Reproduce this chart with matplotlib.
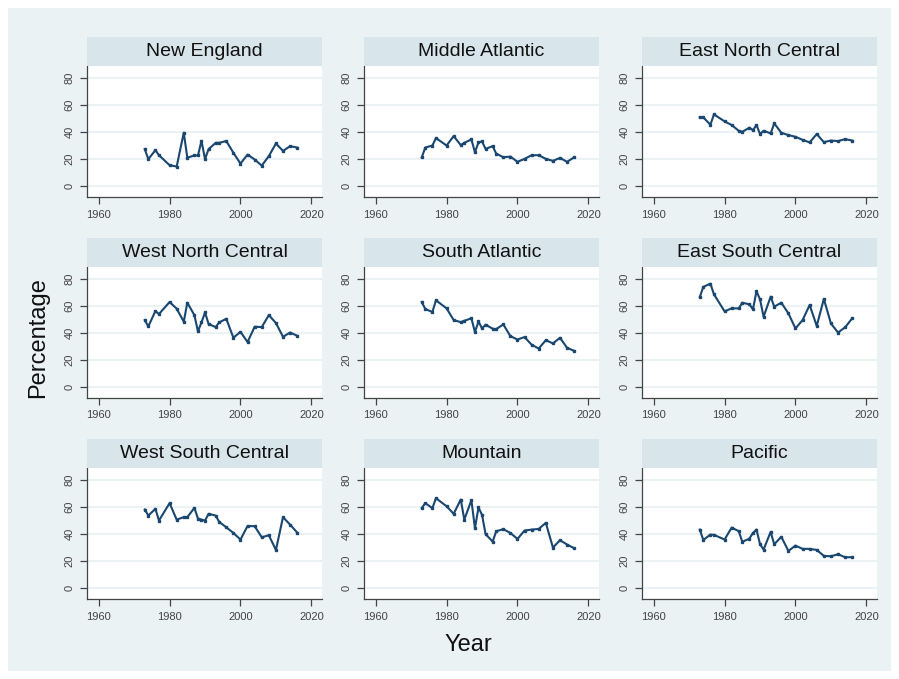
import matplotlib
matplotlib.use("Agg")
import matplotlib.pyplot as plt
from matplotlib.patches import Rectangle

plt.rcParams['font.family'] = ['Liberation Sans', 'DejaVu Sans']

years = [1973, 1974, 1976, 1977, 1980, 1982, 1984, 1985, 1987, 1988, 1989, 1990, 1991,
         1993, 1994, 1996, 1998, 2000, 2002, 2004, 2006, 2008, 2010, 2012, 2014, 2016]

regions = ["New England", "Middle Atlantic", "East North Central",
           "West North Central", "South Atlantic", "East South Central",
           "West South Central", "Mountain", "Pacific"]

new_england = [27.3, 19.9, 26.5, 22.8, 15.4, 14.4, 39.5, 21.0, 22.6, 22.6, 33.5, 19.9, 27.3,
               32.0, 32.0, 33.3, 24.6, 16.6, 23.3, 19.6, 15.1, 22.1, 31.5, 26.0, 29.5, 28.5]
middle_atlantic = [21.3, 28.5, 30.0, 35.5, 30.0, 37.0, 30.3, 32.0, 34.5, 25.0, 32.3, 33.0, 27.5,
                   29.5, 24.0, 21.3, 21.8, 17.9, 20.1, 22.8, 22.8, 20.1, 18.6, 20.8, 17.9, 21.3]
east_north_central = [51.1, 50.9, 45.4, 53.1, 47.9, 45.2, 40.9, 40.2, 43.2, 41.4, 45.2, 38.5, 40.9,
                      39.0, 46.4, 39.5, 37.7, 36.5, 34.2, 32.3, 38.5, 32.5, 33.7, 33.3, 34.7, 33.7]
west_north_central = [49.6, 44.9, 56.3, 54.1, 63.0, 58.1, 48.4, 62.5, 53.3, 41.2, 47.9, 55.3, 46.7,
                      44.4, 47.9, 50.6, 36.5, 40.9, 33.3, 44.7, 44.4, 53.3, 47.4, 37.2, 40.4, 38.0]
south_atlantic = [63.0, 57.8, 55.6, 64.3, 58.3, 49.6, 48.1, 49.1, 50.9, 40.7, 48.6, 43.4, 46.2,
                  43.2, 42.9, 46.4, 37.7, 35.2, 37.0, 31.3, 28.5, 34.7, 32.3, 36.5, 29.0, 26.8]
east_south_central = [66.7, 74.2, 76.7, 68.7, 56.1, 58.3, 58.3, 62.5, 61.3, 57.6, 71.0, 65.0, 52.1,
                      67.0, 59.6, 62.5, 54.6, 43.4, 49.6, 60.8, 45.2, 65.3, 47.1, 40.4, 44.2, 50.9]
west_south_central = [58.2, 53.7, 58.7, 50.0, 62.9, 50.7, 52.5, 52.5, 59.4, 51.5, 50.7, 50.0, 55.0,
                      53.7, 49.0, 45.0, 40.8, 35.9, 46.0, 45.8, 37.6, 39.1, 28.2, 52.5, 47.0, 41.1]
mountain = [59.4, 62.9, 59.2, 66.6, 60.6, 55.0, 65.6, 50.7, 65.1, 44.3, 59.7, 54.2, 39.9,
            34.4, 42.1, 43.6, 40.8, 36.4, 42.6, 43.3, 43.8, 48.3, 30.0, 35.4, 32.2, 29.5]
pacific = [43.3, 35.6, 39.6, 39.4, 35.9, 44.8, 42.1, 34.2, 36.6, 40.8, 43.3, 32.4, 28.5,
           41.6, 32.4, 37.9, 27.5, 31.4, 29.0, 29.0, 28.2, 23.8, 23.5, 25.0, 22.8, 22.8]

series = [new_england, middle_atlantic, east_north_central,
          west_north_central, south_atlantic, east_south_central,
          west_south_central, mountain, pacific]

x_ticks = [1960, 1980, 2000, 2020]
y_ticks = [0, 20, 40, 60, 80]

W, H = 899, 679
fig = plt.figure(figsize=(W / 100, H / 100), dpi=100)
fig.patch.set_facecolor("white")

BG = "#EAF2F3"
STRIP = "#D8E5EA"
LINE = "#1A476F"

fig.patches.append(Rectangle((8 / W, 8 / H), (W - 16) / W, (H - 16) / H,
                             transform=fig.transFigure, facecolor=BG,
                             edgecolor="none", zorder=-10))

col_left = [87, 364, 642]
row_top = [66, 267, 468]
pw, ph = 235, 131
strip_h = 29


def rect(x, y, w, h):
    return [x / W, 1 - (y + h) / H, w / W, h / H]


for i, (name, vals) in enumerate(zip(regions, series)):
    r, c = divmod(i, 3)
    x0, y0 = col_left[c], row_top[r]
    ax = fig.add_axes(rect(x0, y0, pw, ph))
    ax.set_facecolor("white")
    ax.plot(years, vals, color=LINE, lw=1.5, marker="s", ms=1.8,
            markerfacecolor=LINE, markeredgecolor=LINE, zorder=3)
    ax.set_xlim(1956.7, 2023.0)
    ax.set_ylim(-8.2, 89.0)
    ax.set_xticks(x_ticks)
    ax.set_yticks(y_ticks)
    ax.yaxis.grid(True, color=BG, lw=1.5, zorder=0)
    ax.set_axisbelow(True)
    for s in ["top", "right"]:
        ax.spines[s].set_visible(False)
    for s in ["left", "bottom"]:
        ax.spines[s].set_color("#444444")
        ax.spines[s].set_linewidth(0.9)
    ax.tick_params(axis="both", length=5, width=0.9, color="#444444",
                   labelsize=8, labelcolor="#444444", pad=4)
    for lab in ax.get_yticklabels():
        lab.set_rotation(90)
        lab.set_va("center")

    sax = fig.add_axes(rect(x0, y0 - strip_h, pw, strip_h))
    sax.set_facecolor(STRIP)
    sax.set_xticks([])
    sax.set_yticks([])
    for s in sax.spines.values():
        s.set_visible(False)
    sax.text(0.5, 0.5, name, ha="center", va="center", fontsize=14,
             color="#111111", transform=sax.transAxes)

fig.text(38 / W, 1 - 338 / H, "Percentage", rotation=90, ha="center",
         va="center", fontsize=17, color="#111111")
fig.text(468 / W, 1 - 645 / H, "Year", ha="center", va="center",
         fontsize=17, color="#111111")

fig.savefig("out.png", dpi=100, facecolor=fig.get_facecolor())
